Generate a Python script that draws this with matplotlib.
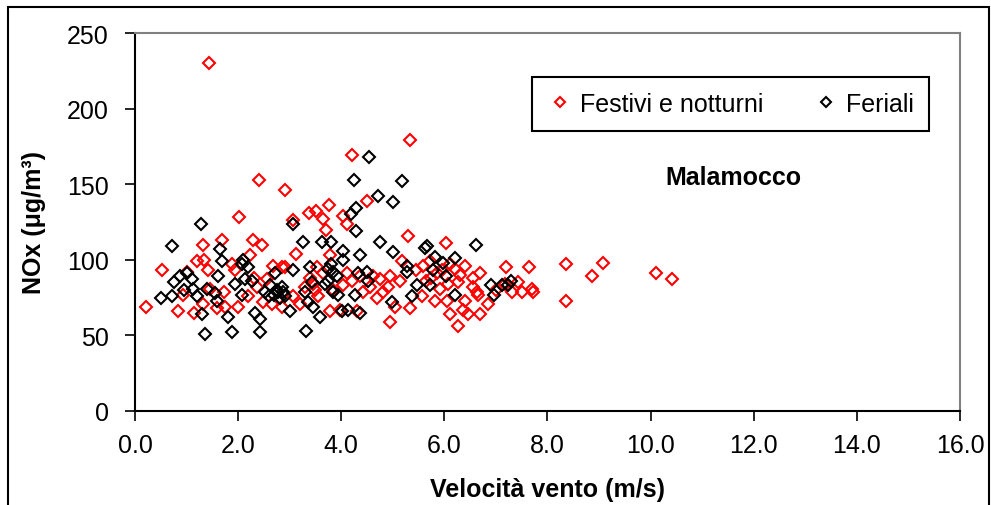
import matplotlib
matplotlib.use("Agg")
import matplotlib.pyplot as plt
from matplotlib.patches import Rectangle

plt.rcParams['font.family'] = ['Liberation Sans', 'DejaVu Sans']

# Festivi e notturni (rossi)
fest_x = [1.44, 4.21, 5.33, 2.40, 2.91, 2.02, 4.50, 3.06, 3.38, 3.51, 3.76, 3.65, 4.03, 4.11,
          0.21, 0.52, 0.83, 1.01, 0.93, 1.32, 1.20, 1.34, 1.42, 1.32, 1.14, 1.45, 1.69, 2.29,
          2.46, 1.73, 1.75, 1.88, 1.94, 2.23, 2.00, 2.66, 2.56, 2.48, 2.68, 2.85, 3.70, 5.29,
          3.12, 2.91, 3.53, 3.65, 3.79, 4.11, 4.03, 3.55, 3.78, 4.36, 4.62, 4.75, 4.95, 5.18,
          5.14, 4.43, 4.81, 5.04, 5.33, 4.95, 5.59, 5.57, 3.07, 2.85, 3.20, 4.31, 3.98, 6.03,
          7.20, 7.64, 8.36, 8.36, 5.72, 6.40, 6.69, 5.86, 6.20, 6.07, 5.92, 6.26, 6.63, 6.65,
          7.43, 7.51, 7.70, 7.72, 7.31, 7.18, 6.85, 6.69, 6.46, 6.36, 6.11, 6.26, 5.82, 6.40,
          6.05, 9.08, 8.86, 10.10, 10.41,
          2.30, 2.36, 3.40, 3.45, 3.50, 3.30, 4.20, 4.55, 5.65, 5.75, 5.95, 6.10, 5.45, 4.90,
          2.20, 1.60, 3.85, 4.70, 6.30, 6.55, 6.55, 7.00]
fest_y = [230, 169, 179, 153, 146, 128, 139, 126, 131, 132, 136, 127, 129, 124,
          69, 93, 66, 92, 77, 110, 99, 100, 93, 71, 65, 81, 113, 113,
          110, 79, 69, 97, 93, 103, 69, 71, 87, 72, 96, 95, 120, 116,
          104, 95, 95, 91, 103, 91, 83, 76, 66, 89, 89, 87, 89, 99,
          86, 79, 79, 69, 68, 59, 96, 76, 76, 69, 71, 66, 67, 111,
          95, 95, 97, 73, 99, 96, 91, 91, 94, 84, 81, 85, 79, 77,
          85, 79, 81, 79, 79, 84, 71, 64, 64, 67, 64, 56, 73, 73,
          73, 98, 89, 91, 87,
          88, 82, 88, 84, 80, 82, 86, 82, 86, 88, 93, 97, 93, 82,
          76, 68, 80, 75, 90, 88, 82, 80]

# Feriali (neri)
fer_x = [4.54, 4.25, 5.18, 4.71, 5.00, 4.29, 4.19, 3.06, 1.28, 0.72, 1.65, 1.69, 1.61, 1.11,
         0.87, 0.76, 0.50, 0.72, 1.12, 1.20, 1.40, 1.59, 1.30, 1.36, 1.88, 2.42, 1.80, 2.10,
         1.94, 2.07, 2.13, 2.27, 2.33, 2.42, 2.19, 2.08, 2.72, 2.62, 2.77, 2.81, 2.52, 4.29,
         3.26, 3.62, 3.81, 4.03, 4.36, 4.75, 5.00, 5.62, 3.39, 3.07, 3.74, 4.03, 3.92, 4.32,
         4.50, 4.52, 3.43, 3.68, 3.84, 3.94, 4.27, 5.28, 5.28, 5.47, 5.37, 4.98, 3.30, 3.36,
         2.87, 3.00, 3.46, 3.59, 4.01, 4.13, 4.36, 3.32, 6.61, 5.66, 5.82, 6.20, 5.97, 5.78,
         6.03, 5.72, 6.20, 6.90, 6.96, 7.12, 7.23,
         2.70, 2.75, 2.85, 2.60, 2.90, 3.80, 3.85, 3.75, 1.00, 1.55, 0.95, 7.30]
fer_y = [168, 153, 152, 142, 138, 134, 130, 124, 124, 109, 107, 99, 89, 87,
         89, 85, 75, 76, 81, 76, 81, 73, 64, 51, 52, 52, 62, 100,
         84, 77, 87, 86, 65, 61, 95, 97, 91, 83, 79, 75, 79, 119,
         112, 112, 112, 106, 103, 112, 105, 108, 95, 93, 94, 100, 89, 91,
         92, 86, 85, 84, 79, 77, 77, 96, 92, 83, 76, 72, 79, 72,
         79, 66, 69, 62, 66, 67, 65, 53, 110, 109, 102, 101, 98, 93,
         89, 83, 77, 83, 77, 83, 83,
         77, 80, 82, 76, 76, 97, 92, 86, 91, 78, 80, 86]

xticks = [0, 2, 4, 6, 8, 10, 12, 14, 16]
yticks = [0, 50, 100, 150, 200, 250]

fig = plt.figure(figsize=(9.91, 5.06), dpi=100)
ax = fig.add_axes([0.1362, 0.1858, 0.8325, 0.747])

ax.plot(fest_x, fest_y, linestyle='none', marker='D', ms=6, mew=1.5,
        mfc='none', mec='#ff0000', label='Festivi e notturni')
ax.plot(fer_x, fer_y, linestyle='none', marker='D', ms=6, mew=1.5,
        mfc='none', mec='black', label='Feriali')

ax.set_xlim(0, 16)
ax.set_ylim(0, 250)
ax.set_xticks(xticks)
ax.set_xticklabels(['%.1f' % v for v in xticks])
ax.set_yticks(yticks)
ax.tick_params(axis='both', labelsize=18, direction='out', length=7, width=1.2)
ax.tick_params(axis='x', pad=9)
ax.tick_params(axis='y', pad=12)

for s in ['left', 'bottom']:
    ax.spines[s].set_linewidth(1.5)
    ax.spines[s].set_color('black')
for s in ['top', 'right']:
    ax.spines[s].set_linewidth(1.5)
    ax.spines[s].set_color('#808080')

ax.set_xlabel('Velocità vento (m/s)', fontsize=18, fontweight='bold', labelpad=14)
ax.set_ylabel('NOx (μg/m³)', fontsize=18, fontweight='bold', labelpad=15)

ax.text(0.725, 0.619, 'Malamocco', transform=ax.transAxes, fontsize=18,
        fontweight='bold', ha='center', va='center')

leg = ax.legend(loc='upper right', bbox_to_anchor=(0.962, 0.884), borderaxespad=0,
                ncol=2, fontsize=18, handlelength=1.0, handletextpad=0.3,
                columnspacing=2.0, borderpad=0.6, markerscale=0.85,
                fancybox=False, framealpha=1)
leg.get_frame().set_edgecolor('black')
leg.get_frame().set_linewidth(1.5)

# cornice esterna
fig.patches.append(Rectangle((8 / 991, -0.1), 981 / 991, 1.1 - 8 / 506,
                             transform=fig.transFigure, fill=False,
                             edgecolor='black', linewidth=1.5))

fig.savefig('out.png', dpi=100)
